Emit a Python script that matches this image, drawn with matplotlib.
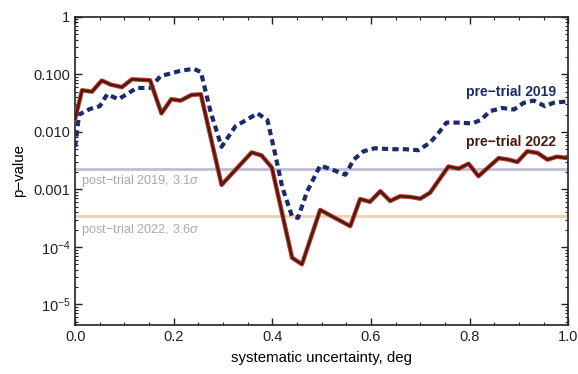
import matplotlib.pyplot as plt
import matplotlib.ticker as mticker
import numpy as np

plt.rcParams["font.family"] = ["Liberation Sans", "DejaVu Sans"]
plt.rcParams["mathtext.fontset"] = "custom"
plt.rcParams["mathtext.rm"] = "Liberation Sans"
plt.rcParams["mathtext.it"] = "Liberation Sans:italic"

# pre-trial 2022 (solid)
x_2022 = [0.0, 0.014, 0.034, 0.054, 0.073, 0.095, 0.115, 0.152, 0.175, 0.195,
          0.214, 0.236, 0.255, 0.297, 0.358, 0.378, 0.399, 0.44, 0.46, 0.497,
          0.558, 0.578, 0.598, 0.619, 0.639, 0.659, 0.68, 0.70, 0.72, 0.757,
          0.778, 0.798, 0.818, 0.859, 0.879, 0.897, 0.917, 0.938, 0.958, 0.977, 1.0]
p_2022 = [0.017, 0.053, 0.050, 0.078, 0.066, 0.060, 0.082, 0.079, 0.021, 0.037,
          0.035, 0.044, 0.045, 0.0012, 0.0044, 0.0039, 0.0024, 6.5e-5, 5.0e-5, 4.4e-4,
          2.3e-4, 6.8e-4, 6.1e-4, 9.3e-4, 6.3e-4, 7.6e-4, 7.4e-4, 6.9e-4, 8.8e-4, 2.5e-3,
          2.3e-3, 2.8e-3, 1.7e-3, 3.5e-3, 3.3e-3, 3.0e-3, 4.6e-3, 4.3e-3, 3.3e-3, 3.7e-3, 3.5e-3]

# pre-trial 2019 (dashed)
x_2019 = [0.0, 0.008, 0.03, 0.05, 0.065, 0.088, 0.125, 0.152, 0.173, 0.213,
          0.24, 0.255, 0.275, 0.297, 0.325, 0.37, 0.39, 0.405, 0.42, 0.44,
          0.452, 0.47, 0.497, 0.522, 0.548, 0.565, 0.585, 0.608, 0.64, 0.67,
          0.696, 0.72, 0.74, 0.753, 0.78, 0.805, 0.822, 0.842, 0.866, 0.89,
          0.91, 0.93, 0.953, 0.97, 1.0]
p_2019 = [0.0055, 0.02, 0.025, 0.028, 0.045, 0.037, 0.058, 0.058, 0.093, 0.115,
          0.125, 0.11, 0.022, 0.0055, 0.0125, 0.021, 0.016, 0.0044, 0.0011, 3.4e-4,
          3.2e-4, 9e-4, 0.0026, 0.0022, 0.0018, 0.0033, 0.0046, 0.0052, 0.005, 0.005,
          0.0048, 0.0065, 0.0103, 0.0145, 0.0145, 0.014, 0.016, 0.023, 0.026, 0.0245,
          0.032, 0.035, 0.028, 0.032, 0.034]

post_2019 = 2.3e-3
post_2022 = 3.5e-4

fig = plt.figure(figsize=(5.78, 3.74), dpi=100)
ax = fig.add_axes([0.130, 0.131, 0.853, 0.824])

# post-trial reference lines
ax.axhline(post_2019, color="#bcc0d6", lw=2.0, zorder=1)
ax.axhline(post_2022, color="#ecd3b0", lw=2.0, zorder=1)
ax.text(0.012, post_2019 * 0.62, r"post$-$trial 2019, 3.1$\it{\sigma}$",
        color="#a8a8a8", fontsize=9.2, va="center", ha="left")
ax.text(0.012, post_2022 * 0.56, r"post$-$trial 2022, 3.6$\it{\sigma}$",
        color="#b0aaa4", fontsize=9.2, va="center", ha="left")

# curves
ax.plot(x_2019, p_2019, color="#1c2a6b", lw=3.0, dashes=(1.5, 1.0), zorder=3)
ax.plot(x_2022, p_2022, color="#c0392b", lw=3.2, zorder=4)
ax.plot(x_2022, p_2022, color="#4a1a12", lw=1.7, zorder=5)

ax.text(0.975, 0.050, "pre\u2212trial 2019", color="#1c2a6b", fontsize=10,
        fontweight="bold", ha="right", va="center")
ax.text(0.975, 0.0066, "pre\u2212trial 2022", color="#4a1a12", fontsize=10,
        fontweight="bold", ha="right", va="center")

ax.set_yscale("log")
ax.set_xlim(0, 1.0)
ax.set_ylim(4.4e-6, 1)
ax.set_yticks([1, 0.1, 0.01, 0.001, 1e-4, 1e-5])
ax.set_yticklabels(["1", "0.100", "0.010", "0.001", r"$10^{-4}$", r"$10^{-5}$"])
ax.yaxis.set_minor_locator(mticker.LogLocator(base=10, subs=np.arange(2, 10), numticks=20))
ax.yaxis.set_minor_formatter(mticker.NullFormatter())
ax.set_xticks([0.0, 0.2, 0.4, 0.6, 0.8, 1.0])
ax.set_xticklabels(["0.0", "0.2", "0.4", "0.6", "0.8", "1.0"])
ax.xaxis.set_minor_locator(mticker.MultipleLocator(0.05))
ax.tick_params(which="both", direction="in", top=True, right=True, labelsize=10.5,
               colors="#222222")
ax.tick_params(which="major", length=5, width=1.0)
ax.tick_params(which="minor", length=2.5, width=0.8)
for s in ax.spines.values():
    s.set_linewidth(1.2)
    s.set_color("#222222")

ax.set_xlabel("systematic uncertainty, deg", fontsize=10.8, labelpad=5)
ax.set_ylabel("p\u2212value", fontsize=10.8, labelpad=5)

fig.savefig("out.png", dpi=100)
